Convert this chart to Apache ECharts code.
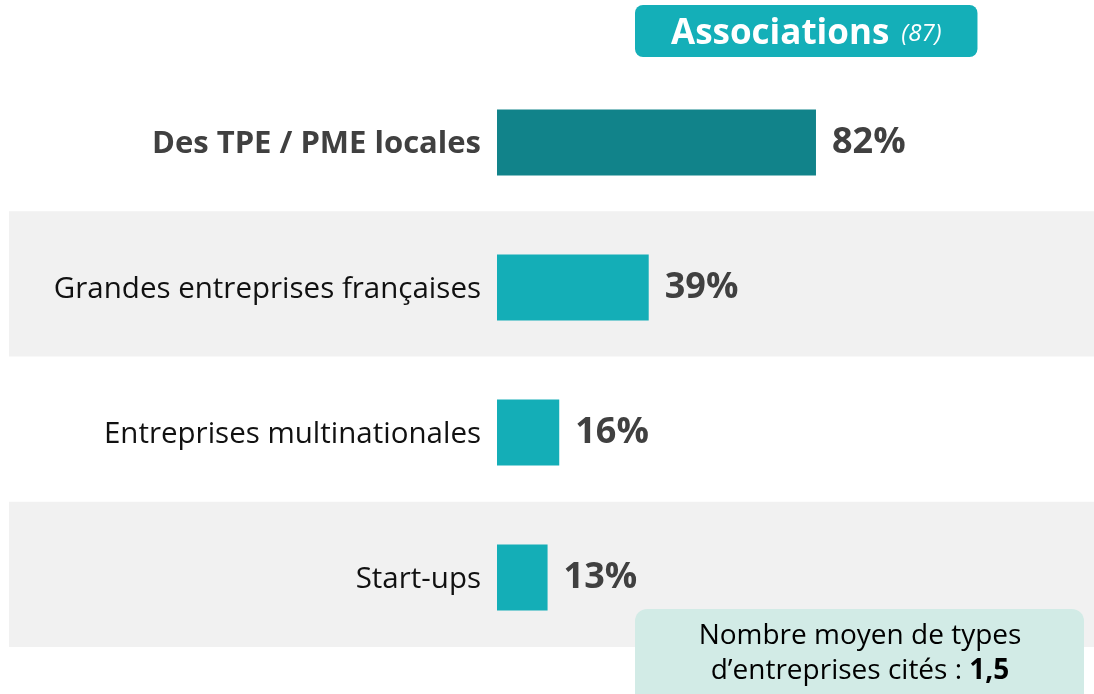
<!DOCTYPE html>
<html>
<head>
<meta charset="utf-8">
<script src="https://cdn.jsdelivr.net/npm/echarts@6/dist/echarts.min.js"></script>
<style>
  html, body { margin: 0; padding: 0; background: #fff; }
  #chart { width: 1094px; height: 694px; }
</style>
</head>
<body>
<div id="chart"></div>
<script>
var categories = ["Des TPE / PME locales", "Grandes entreprises françaises", "Entreprises multinationales", "Start-ups"];
var values = [82, 39, 16, 13];
var barColors = ["#11838A", "#14AEB7", "#14AEB7", "#14AEB7"];
var headerName = "Associations";
var headerBase = "(87)";
var noteLine1 = "Nombre moyen de types";
var noteLine2 = "d’entreprises cités : ";
var noteValue = "1,5";

var chart = echarts.init(document.getElementById("chart"));
var font = "'Open Sans', 'Noto Sans', sans-serif";

chart.setOption({
  animation: false,
  title: {
    left: 635,
    top: 1,
    text: "{b|" + headerName + "}{i|" + headerBase + "}",
    backgroundColor: "#14AFB8",
    borderRadius: 8,
    padding: [12, 36, 5, 36],
    textStyle: {
      rich: {
        b: { fontFamily: font, fontSize: 35, fontWeight: "bold", color: "#fff", lineHeight: 43 },
        i: { fontFamily: font, fontSize: 24, fontWeight: "normal", fontStyle: "italic", color: "#fff", lineHeight: 43, padding: [0, 0, 0, 12] }
      }
    }
  },
  grid: [
    { left: 497, width: 389, top: 70, bottom: 44 },
    { left: 9, right: 0, top: 66, bottom: 47 }
  ],
  xAxis: [
    { gridIndex: 0, type: "value", min: 0, max: 100, show: false },
    { gridIndex: 1, type: "value", min: 0, max: 100, show: false }
  ],
  yAxis: [
    {
      gridIndex: 0,
      type: "category",
      data: categories,
      inverse: true,
      axisLine: { show: false },
      axisTick: { show: false },
      axisLabel: {
        margin: 16,
        fontFamily: font,
        fontSize: 29.5,
        color: "#111",
        padding: [4, 0, 0, 0],
        formatter: function (v, i) {
          return i === 0 ? "{b|" + v + "}" : v;
        },
        rich: {
          b: { fontFamily: font, fontSize: 31, fontWeight: "bold", color: "#404040" }
        }
      }
    },
    {
      gridIndex: 1,
      type: "category",
      data: categories,
      inverse: true,
      axisLine: { show: false },
      axisTick: { show: false },
      axisLabel: { show: false },
      splitLine: { show: false },
      splitArea: { show: true, areaStyle: { color: ["rgba(0,0,0,0)", "#F1F1F1"] } }
    }
  ],
  series: [
    {
      type: "bar",
      xAxisIndex: 0,
      yAxisIndex: 0,
      z: 3,
      barWidth: 66,
      data: values.map(function (v, i) {
        return { value: v, itemStyle: { color: barColors[i] } };
      }),
      label: {
        show: true,
        position: "right",
        distance: 16,
        formatter: "{c}%",
        fontFamily: font,
        fontSize: 36,
        fontWeight: "bold",
        color: "#404040"
      }
    }
  ],
  graphic: [
    {
      type: "rect",
      x: 635,
      y: 609,
      z: 10,
      shape: { x: 0, y: 0, width: 449, height: 100, r: 12 },
      style: { fill: "#D2EBE6" }
    },
    {
      type: "text",
      x: 860,
      y: 619,
      z: 11,
      style: {
        text: "{n|" + noteLine1 + "}\n{n|" + noteLine2 + "}{v|" + noteValue + "}",
        align: "center",
        verticalAlign: "top",
        rich: {
          n: { fontFamily: font, fontSize: 28, color: "#333F50", lineHeight: 35 },
          v: { fontFamily: font, fontSize: 28, fontWeight: "bold", color: "#333F50", lineHeight: 35 }
        }
      }
    }
  ]
});
</script>
</body>
</html>
